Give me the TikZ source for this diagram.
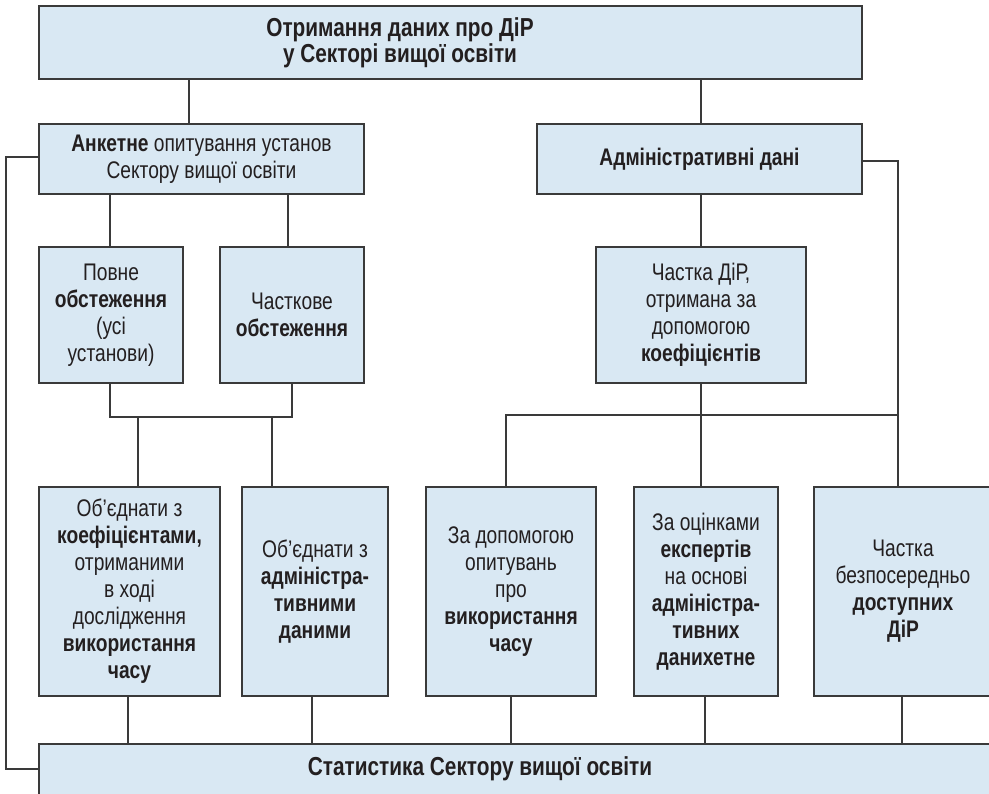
\documentclass[tikz,border=0pt]{standalone}
\usepackage{fontspec}
\setmainfont{Liberation Sans}[FakeStretch=0.8]
\definecolor{boxfill}{HTML}{D9E8F3}
\definecolor{edgec}{HTML}{3A3A3A}
\definecolor{textc}{HTML}{231F20}
\begin{document}
\begin{tikzpicture}[x=1pt,y=-1pt,
  box/.style={draw=edgec, line width=1.6pt, fill=boxfill, inner sep=0pt, align=center,
    text=textc, font=\fontsize{24}{27}\selectfont},
  heading/.style={align=center, text=textc, font=\bfseries\fontsize{26}{26}\selectfont},
  conn/.style={draw=edgec, line width=1.2pt}]
\useasboundingbox (0,0) rectangle (989,794);
\clip (0,0) rectangle (989,794);

% boxes
\node[box, minimum width=823pt, minimum height=73pt] (top) at (450.5,42.5) {};
\node[heading] (toptext) at (400,42.5) {Отримання даних про ДіР\\у Секторі вищої освіти};

\node[box, minimum width=325pt, minimum height=70pt] (anket) at (201.5,159)
  {\textbf{Анкетне} опитування установ\\Сектору вищої освіти};
\node[box, minimum width=325pt, minimum height=70pt] (admin) at (699.5,159)
  {\textbf{Адміністративні дані}};

\node[box, minimum width=144pt, minimum height=136pt] (full) at (111,315)
  {Повне\\\textbf{обстеження}\\(усі\\установи)};
\node[box, minimum width=144pt, minimum height=136pt] (partial) at (292,315)
  {Часткове\\\textbf{обстеження}};
\node[box, minimum width=210pt, minimum height=136pt] (koef) at (701,315)
  {Частка ДіР,\\отримана за\\допомогою\\\textbf{коефіцієнтів}};

\node[box, minimum width=181pt, minimum height=209pt] (b1) at (129.5,591.5)
  {Об’єднати з\\\textbf{коефіцієнтами,}\\отриманими\\в ході\\дослідження\\\textbf{використання}\\\textbf{часу}};
\node[box, minimum width=146pt, minimum height=209pt] (b2) at (315,591.5)
  {Об’єднати з\\\textbf{адміністра-}\\\textbf{тивними}\\\textbf{даними}};
\node[box, minimum width=170pt, minimum height=209pt] (b3) at (511,591.5)
  {За допомогою\\опитувань\\про\\\textbf{використання}\\\textbf{часу}};
\node[box, minimum width=144pt, minimum height=209pt] (b4) at (706,591.5)
  {За оцінками\\\textbf{експертів}\\на основі\\\textbf{адміністра-}\\\textbf{тивних}\\\textbf{данихетне}};
\node[box, minimum width=178pt, minimum height=209pt] (b5) at (903,591.5)
  {Частка\\безпосередньо\\\textbf{доступних}\\\textbf{ДіР}};

\node[box, minimum width=961pt, minimum height=66pt] (bottom) at (519.5,777) {};
\node[heading] (bottomtext) at (480,769) {Статистика Сектору вищої освіти};

% junction points
\coordinate (jl1) at (110,417);
\coordinate (jl2) at (292,417);
\coordinate (jr1) at (506,415);
\coordinate (jr2) at (701,415);
\coordinate (jr3) at (898,415);
\coordinate (rt) at (898,161);
\coordinate (lt) at (6,157);
\coordinate (lb) at (6,769);

% connectors
\draw[conn] (189,0 |- top.south) -- (189,0 |- anket.north);
\draw[conn] (701,0 |- top.south) -- (701,0 |- admin.north);
\draw[conn] (110,0 |- anket.south) -- (110,0 |- full.north);
\draw[conn] (288,0 |- anket.south) -- (288,0 |- partial.north);
\draw[conn] (110,0 |- full.south) -- (jl1) -- (jl2) -- (292,0 |- partial.south);
\draw[conn] (138,0 |- jl1) -- (138,0 |- b1.north);
\draw[conn] (272,0 |- jl1) -- (272,0 |- b2.north);
\draw[conn] (128,0 |- b1.south) -- (128,0 |- bottom.north);
\draw[conn] (312,0 |- b2.south) -- (312,0 |- bottom.north);

\draw[conn] (701,0 |- admin.south) -- (701,0 |- koef.north);
\draw[conn] (701,0 |- koef.south) -- (jr2);
\draw[conn] (506,0 |- b3.north) -- (jr1) -- (jr3);
\draw[conn] (jr2) -- (701,0 |- b4.north);
\draw[conn] (admin.east |- rt) -- (rt) -- (898,0 |- b5.north);
\draw[conn] (511,0 |- b3.south) -- (511,0 |- bottom.north);
\draw[conn] (705,0 |- b4.south) -- (705,0 |- bottom.north);
\draw[conn] (902,0 |- b5.south) -- (902,0 |- bottom.north);
\draw[conn] (anket.west |- lt) -- (lt) -- (lb) -- (bottom.west |- lb);
\end{tikzpicture}
\end{document}
